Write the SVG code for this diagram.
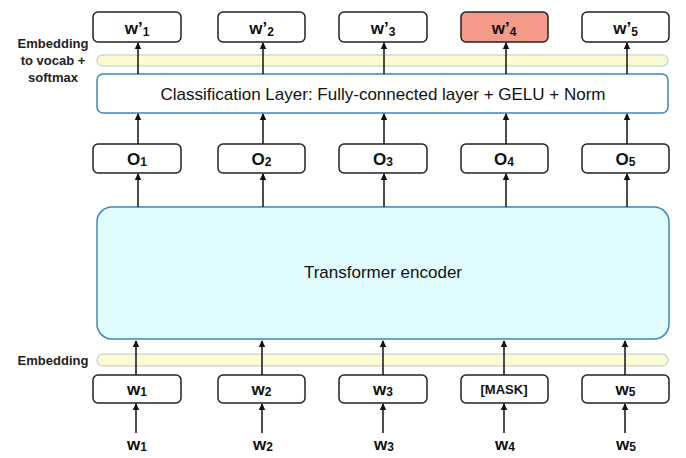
<svg xmlns="http://www.w3.org/2000/svg" width="686" height="458" viewBox="0 0 686 458">
<style>
.box{fill:#fff;stroke:#222;stroke-width:1.5}
.mask{fill:#f39a88;stroke:#222;stroke-width:1.5}
.band{fill:#fbfbd2;stroke:#d4d8d8;stroke-width:1.5}
.cls{fill:#fff;stroke:#3f86c0;stroke-width:1.5}
.enc{fill:#e0fcff;stroke:#3f86c0;stroke-width:1.5}
.t{font-family:"Liberation Sans",Arial,sans-serif;font-weight:bold;font-size:17px;fill:#111;text-anchor:middle}
.s{font-size:12px}
.lbl{font-family:"Liberation Sans",Arial,sans-serif;font-weight:bold;font-size:13px;fill:#222;text-anchor:middle}
.big{font-family:"Liberation Sans",Arial,sans-serif;font-size:17px;fill:#111;text-anchor:middle}
.c{stroke:#111;stroke-width:1.5;fill:none;marker-end:url(#ah)}
</style>
<defs>
<marker id="ah" markerWidth="8" markerHeight="8" refX="6" refY="4" orient="auto" markerUnits="userSpaceOnUse">
<path d="M0,0.8 L7,4 L0,7.2 Z" fill="#111"/>
</marker>
</defs>
<rect width="686" height="458" fill="#fff"/>

<g id="label-emb-vocab">
<text class="lbl" x="53" y="48">Embedding</text>
<text class="lbl" x="53" y="65">to vocab +</text>
<text class="lbl" x="53" y="82">softmax</text>
</g>
<g id="label-emb"><text class="lbl" x="53" y="365">Embedding</text></g>

<g id="band-top"><rect class="band" x="97" y="55" width="571" height="11" rx="5.5"/></g>
<g id="band-bottom"><rect class="band" x="97" y="354" width="571" height="12" rx="6"/></g>

<g id="classification"><rect class="cls" x="97" y="74" width="571" height="39" rx="6"/>
<text class="big" x="383" y="100">Classification Layer: Fully-connected layer + GELU + Norm</text></g>

<g id="encoder"><rect class="enc" x="97" y="207" width="572" height="132" rx="15"/>
<text class="big" x="383" y="278">Transformer encoder</text></g>

<g id="out1"><rect class="box" x="93" y="12" width="88" height="30" rx="5"/><text class="t" x="137" y="34">w’<tspan class="s" dy="2">1</tspan></text></g>
<g id="out2"><rect class="box" x="218" y="12" width="87" height="30" rx="5"/><text class="t" x="261.5" y="34">w’<tspan class="s" dy="2">2</tspan></text></g>
<g id="out3"><rect class="box" x="339" y="12" width="88" height="30" rx="5"/><text class="t" x="383" y="34">w’<tspan class="s" dy="2">3</tspan></text></g>
<g id="out4"><rect class="mask" x="461" y="12" width="87" height="30" rx="5"/><text class="t" x="504" y="34">w’<tspan class="s" dy="2">4</tspan></text></g>
<g id="out5"><rect class="box" x="582" y="12" width="87" height="30" rx="5"/><text class="t" x="625.5" y="34">w’<tspan class="s" dy="2">5</tspan></text></g>

<g id="o1"><rect class="box" x="93" y="144" width="88" height="29" rx="5"/><text class="t" x="137" y="165">O<tspan class="s" dy="1">1</tspan></text></g>
<g id="o2"><rect class="box" x="218" y="144" width="87" height="29" rx="5"/><text class="t" x="261.5" y="165">O<tspan class="s" dy="1">2</tspan></text></g>
<g id="o3"><rect class="box" x="339" y="144" width="88" height="29" rx="5"/><text class="t" x="383" y="165">O<tspan class="s" dy="1">3</tspan></text></g>
<g id="o4"><rect class="box" x="461" y="144" width="87" height="29" rx="5"/><text class="t" x="504" y="165">O<tspan class="s" dy="1">4</tspan></text></g>
<g id="o5"><rect class="box" x="582" y="144" width="87" height="29" rx="5"/><text class="t" x="625.5" y="165">O<tspan class="s" dy="1">5</tspan></text></g>

<g id="in1"><rect class="box" x="93" y="375" width="88" height="28" rx="5"/><text class="t" x="137" y="395">w<tspan class="s" dy="1">1</tspan></text></g>
<g id="in2"><rect class="box" x="218" y="375" width="87" height="28" rx="5"/><text class="t" x="261.5" y="395">w<tspan class="s" dy="1">2</tspan></text></g>
<g id="in3"><rect class="box" x="339" y="375" width="88" height="28" rx="5"/><text class="t" x="383" y="395">w<tspan class="s" dy="1">3</tspan></text></g>
<g id="in4"><rect class="box" x="461" y="375" width="87" height="28" rx="5"/><text class="t" x="504" y="394" style="font-size:13px">[MASK]</text></g>
<g id="in5"><rect class="box" x="582" y="375" width="87" height="28" rx="5"/><text class="t" x="625.5" y="395">w<tspan class="s" dy="1">5</tspan></text></g>

<g id="tok1"><text class="t" x="137" y="450">w<tspan class="s" dy="1">1</tspan></text></g>
<g id="tok2"><text class="t" x="263" y="450">w<tspan class="s" dy="1">2</tspan></text></g>
<g id="tok3"><text class="t" x="384" y="450">w<tspan class="s" dy="1">3</tspan></text></g>
<g id="tok4"><text class="t" x="505" y="450">w<tspan class="s" dy="1">4</tspan></text></g>
<g id="tok5"><text class="t" x="626" y="450">w<tspan class="s" dy="1">5</tspan></text></g>

<g id="connectors">
<path class="c" d="M138,74 V43"/><path class="c" d="M263,74 V43"/><path class="c" d="M384,74 V43"/><path class="c" d="M506,74 V43"/><path class="c" d="M627,74 V43"/>
<path class="c" d="M138,144 V114"/><path class="c" d="M263,144 V114"/><path class="c" d="M384,144 V114"/><path class="c" d="M506,144 V114"/><path class="c" d="M627,144 V114"/>
<path class="c" d="M138,207 V174"/><path class="c" d="M263,207 V174"/><path class="c" d="M384,207 V174"/><path class="c" d="M506,207 V174"/><path class="c" d="M627,207 V174"/>
<path class="c" d="M136,375 V341"/><path class="c" d="M262,375 V341"/><path class="c" d="M383,375 V341"/><path class="c" d="M504,375 V341"/><path class="c" d="M625,375 V341"/>
<path class="c" d="M136,433 V404"/><path class="c" d="M262,433 V404"/><path class="c" d="M383,433 V404"/><path class="c" d="M504,433 V404"/><path class="c" d="M625,433 V404"/>
</g>
</svg>
